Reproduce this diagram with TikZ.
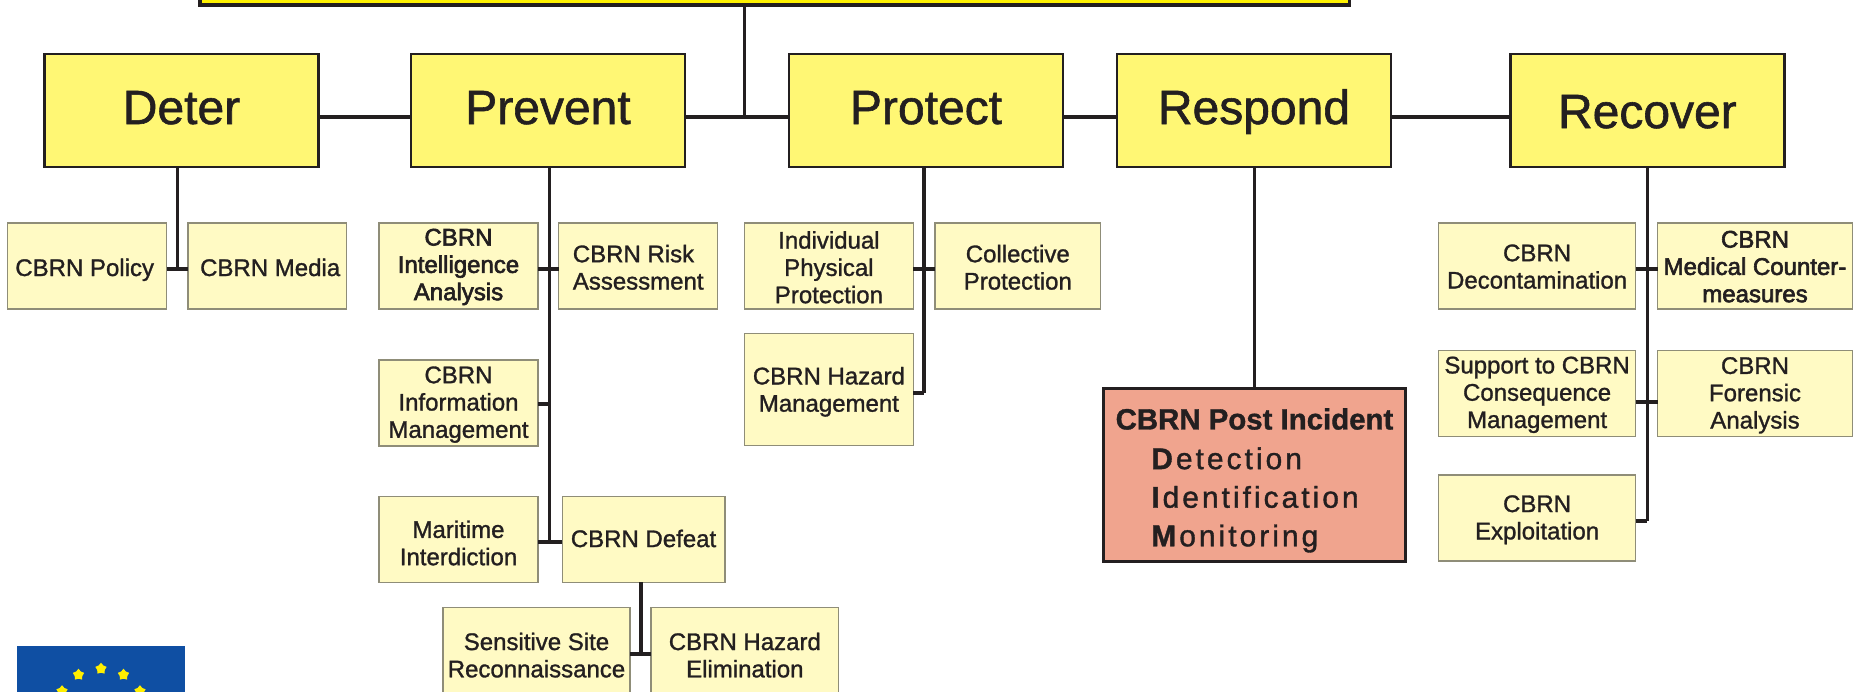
\documentclass[tikz,border=0pt]{standalone}
\usepackage{fontspec}
\setmainfont{Liberation Sans}[FakeBold=1.2]
\newfontfamily\spacedfont{Liberation Sans}[LetterSpace=10,FakeBold=1.2]
\newfontfamily\heavyfont{Liberation Sans}[FakeBold=2.5]
\usetikzlibrary{calc,shapes.geometric}
\definecolor{ink}{HTML}{231F20}
\definecolor{goalyellow}{HTML}{FFF200}
\definecolor{mainyellow}{HTML}{FFF774}
\definecolor{subyellow}{HTML}{FFFAC4}
\definecolor{subedge}{HTML}{8F8D78}
\definecolor{postred}{HTML}{F0A48E}
\definecolor{eublue}{HTML}{0F4FA3}
\definecolor{eustar}{HTML}{FFEF00}
\newcommand{\firstline}[1]{\rule{0pt}{#1pt}}
\tikzset{
  mainbox/.style={draw=ink,fill=mainyellow,line width=2.6pt,outer sep=0pt,inner sep=0pt,minimum width=274,minimum height=113,anchor=north west,text=ink,text height=35,text depth=8,font=\fontsize{48}{54}\selectfont},
  subbox/.style={draw=subedge,fill=subyellow,line width=1.5pt,outer sep=0pt,inner sep=0pt,minimum height=86,anchor=north west,text=ink,align=center,font=\fontsize{24}{27.3}\selectfont},
  singlebox/.style={subbox,text height=#1,text depth=6},
  heavybox/.style={subbox,font=\heavyfont\fontsize{24}{27.3}\selectfont},
  thickline/.style={draw=ink,line width=4pt},
  thinline/.style={draw=ink,line width=3.2pt},
  eustarnode/.style={star,star points=5,fill=eustar,draw=none,inner sep=0pt,minimum size=12}
}
\begin{document}
\begin{tikzpicture}[x=1pt,y=-1pt]
\clip (0,0) rectangle (1855,691);
\node[draw=ink,fill=goalyellow,line width=3.5pt,outer sep=0pt,minimum width=1149.5,minimum height=60,anchor=south west] at (200,5) (goal) {};
\node[mainbox] at (44.5,54) (deter) {Deter};
\node[mainbox] at (411,54) (prevent) {Prevent};
\node[mainbox] at (789,54) (protect) {Protect};
\node[mainbox] at (1117,54) (respond) {Respond};
\node[mainbox,text depth=0] at (1510.4,54) (recover) {Recover};
\node[singlebox=26,minimum width=159] at (7.7,223) (policy) {CBRN Policy\hspace*{5pt}};
\node[singlebox=26,minimum width=158.4] at (188,223) (media) {\hspace*{6pt}CBRN Media};
\node[heavybox,minimum width=159] at (379,223) (intel) {\firstline{18.7}CBRN\\Intelligence\\Analysis};
\node[subbox,align=left,minimum width=159] at (558.7,223) (risk) {\firstline{20}CBRN Risk\\Assessment};
\node[subbox,minimum width=159] at (379,360) (info) {\firstline{20}CBRN\\Information\\Management};
\node[subbox,minimum width=159] at (379,496.3) (maritime) {\firstline{24.7}Maritime\\Interdiction};
\node[singlebox=21.5,minimum width=162.5] at (562.3,496.3) (defeat) {CBRN Defeat};
\node[subbox,minimum width=187,minimum height=94] at (443,607.3) (site) {\firstline{19}Sensitive Site\\Reconnaissance};
\node[subbox,minimum width=187.7,minimum height=94] at (651,607.3) (elim) {\firstline{19}CBRN Hazard\\Elimination};
\node[subbox,minimum width=169] at (744.4,223) (individual) {\firstline{20}Individual\\Physical\\Protection};
\node[subbox,minimum width=165.6] at (935,223) (collective) {\firstline{20}Collective\\Protection};
\node[subbox,minimum width=169,minimum height=112.4] at (744.4,333.3) (hazard) {\firstline{22}CBRN Hazard\\Management};
\node[subbox,minimum width=197] at (1438.6,223) (decon) {\firstline{18}CBRN\\Decontamination};
\node[heavybox,minimum width=195] at (1657.5,223) (medical) {\firstline{18}CBRN\\Medical Counter-\\measures};
\node[subbox,minimum width=197] at (1438.6,350.7) (support) {\firstline{19}Support to CBRN\\Consequence\\Management};
\node[subbox,minimum width=195] at (1657.5,350.7) (forensic) {\firstline{20}CBRN\\Forensic\\Analysis};
\node[subbox,minimum width=197] at (1438.6,475) (exploit) {\firstline{20.4}CBRN\\Exploitation};
\node[draw=ink,fill=postred,line width=3.5pt,outer sep=0pt,inner sep=0pt,minimum width=302,minimum height=173.4,anchor=north west,text=ink,align=left,font=\fontsize{30}{38.6}\selectfont] at (1103.5,388.3) (post) {\firstline{32}\textbf{\fontsize{29.4}{38.6}\selectfont CBRN Post Incident}\\[1pt]
\hspace*{35.6pt}{\spacedfont\textbf{D}etection}\\
\hspace*{35.6pt}{\spacedfont\textbf{I}dentification}\\
\hspace*{35.6pt}{\spacedfont\textbf{M}onitoring}};
\node[fill=eublue,outer sep=0pt,minimum width=168,minimum height=112,anchor=north west] at (17,646) (flag) {};
\foreach \a in {0,30,...,330} {
  \node[eustarnode] at ($(101,713.7)+(\a:45)$) (star\a) {};
}
\coordinate (bus) at (0,116.7);
\coordinate (goalend) at (744.4,116.7);
\coordinate (deterend) at (177.3,269.3);
\coordinate (preventend) at (549.2,541.7);
\coordinate (defeatend) at (641,654);
\coordinate (protectend) at (924,392.7);
\coordinate (recoverend) at (1647.4,521);
\coordinate (riskrow) at (0,269.3);
\coordinate (inforow) at (0,404);
\coordinate (supportrow) at (0,401.7);
\draw[thickline] (deter.east |- bus) -- (prevent.west |- bus);
\draw[thickline] (prevent.east |- bus) -- (protect.west |- bus);
\draw[thickline] (protect.east |- bus) -- (respond.west |- bus);
\draw[thickline] (respond.east |- bus) -- (recover.west |- bus);
\draw[thinline] (goal.south -| goalend) -- (goalend);
\draw[thinline] (deter.south -| deterend) -- (deterend);
\draw[thickline] (policy.east |- deterend) -- (media.west |- deterend);
\draw[thinline] (prevent.south -| preventend) -- (preventend);
\draw[thickline] (intel.east |- riskrow) -- (risk.west |- riskrow);
\draw[thickline] (info.east |- inforow) -- (inforow -| preventend);
\draw[thickline] (maritime.east |- preventend) -- (defeat.west |- preventend);
\draw[thinline] (defeat.south -| defeatend) -- (defeatend);
\draw[thickline] (site.east |- defeatend) -- (elim.west |- defeatend);
\draw[thinline] (protect.south -| protectend) -- (protectend);
\draw[thickline] (individual.east |- riskrow) -- (collective.west |- riskrow);
\draw[thickline] (hazard.east |- protectend) -- (protectend);
\draw[thinline] (respond.south -| post.north) -- (post.north);
\draw[thinline] (recover.south -| recoverend) -- (recoverend);
\draw[thickline] (decon.east |- riskrow) -- (medical.west |- riskrow);
\draw[thickline] (support.east |- supportrow) -- (forensic.west |- supportrow);
\draw[thickline] (exploit.east |- recoverend) -- (recoverend);
\end{tikzpicture}
\end{document}
